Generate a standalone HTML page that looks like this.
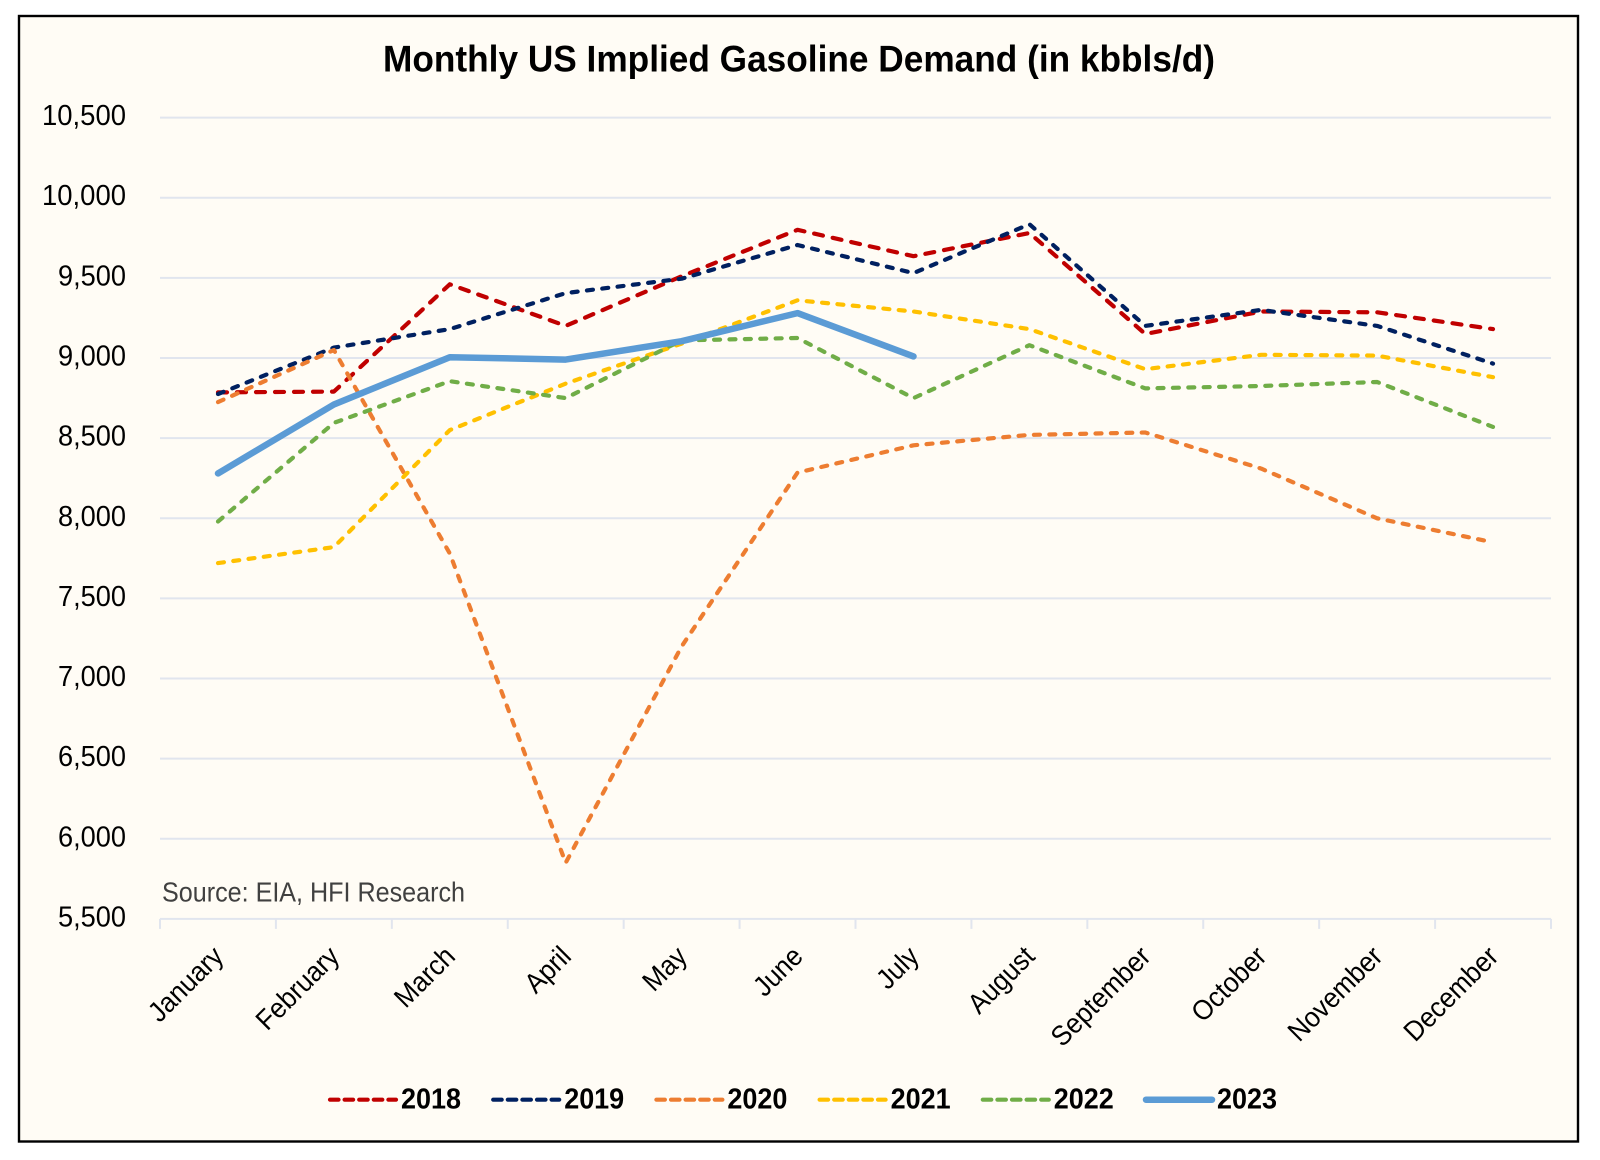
<!DOCTYPE html>
<html lang="en">
<head>
<meta charset="utf-8">
<title>Monthly US Implied Gasoline Demand</title>
<style>
html,body{margin:0;padding:0;background:#fff;width:1600px;height:1160px;overflow:hidden}
svg{display:block;font-family:"Liberation Sans",sans-serif}
</style>
</head>
<body>
<svg id="chart" xmlns="http://www.w3.org/2000/svg" width="1600" height="1160" viewBox="0 0 1600 1160">
  <rect x="19" y="16" width="1559" height="1125.5" fill="#fffcf5" stroke="#000" stroke-width="2.4"/>
  <text x="383" y="71.5" font-size="37" font-weight="700" fill="#000" textLength="832" lengthAdjust="spacingAndGlyphs">Monthly US Implied Gasoline Demand (in kbbls/d)</text>
  <g id="grid"></g>
  <g id="yaxis"></g>
  <g id="xaxis"></g>
  <g id="series"></g>
  <text x="162" y="901.7" font-size="27.5" fill="#404040" textLength="303" lengthAdjust="spacingAndGlyphs">Source: EIA, HFI Research</text>
  <g id="legend"></g>
</svg>
<script>
const months = ["January","February","March","April","May","June","July","August","September","October","November","December"];
const yTicks = [5500,6000,6500,7000,7500,8000,8500,9000,9500,10000,10500];
const values2018 = [8785,8790,9460,9200,9510,9800,9635,9780,9150,9290,9285,9180];
const values2019 = [8775,9065,9180,9405,9495,9705,9530,9835,9200,9300,9200,8965];
const values2020 = [8725,9050,7780,5850,7200,8285,8455,8520,8535,8310,8000,7850];
const values2021 = [7720,7820,8550,8840,9090,9360,9290,9180,8930,9020,9015,8880];
const values2022 = [7980,8595,8855,8750,9110,9125,8750,9080,8810,8825,8850,8570];
const values2023 = [8280,8710,9005,8990,9105,9280,9010];
const seriesNames = ["2018","2019","2020","2021","2022","2023"];
const seriesValues = [values2018,values2019,values2020,values2021,values2022,values2023];
const seriesColors = ["#c00000","#002060","#ed7d31","#ffc000","#70ad47","#5b9bd5"];

const NS = "http://www.w3.org/2000/svg";
const plotLeft = 160, plotRight = 1551, plotBottom = 918.9, plotTop = 117.6;
const yMin = yTicks[0], yMax = yTicks[yTicks.length-1];
const band = (plotRight-plotLeft)/months.length;
function xPos(i){ return plotLeft + band*(i+0.5); }
function xEdge(i){ return plotLeft + band*i; }
function yPos(v){ return plotBottom - (v-yMin)/(yMax-yMin)*(plotBottom-plotTop); }
function make(tag, parent, attrs){
  const el = document.createElementNS(NS, tag);
  for(const k in attrs){ el.setAttribute(k, attrs[k]); }
  parent.appendChild(el);
  return el;
}
const gridG = document.getElementById("grid");
const yG = document.getElementById("yaxis");
const xG = document.getElementById("xaxis");
const seriesG = document.getElementById("series");
const legendG = document.getElementById("legend");

yTicks.forEach(function(t){
  const py = yPos(t);
  const line = make("line", gridG, {x1:plotLeft,x2:plotRight,y1:py,y2:py,stroke:"#e1e5ee","stroke-width":2});
  
  
  const label = t.toLocaleString("en-US");
  const txt = make("text", yG, {x:126,y:py+7.5,"text-anchor":"end","font-size":29,fill:"#000",textLength:label.length===6?84:68,lengthAdjust:"spacingAndGlyphs"});
  txt.textContent = label;
  
  
});

for(let i=0;i<=months.length;i++){
  const tick = make("line", xG, {x1:xEdge(i),x2:xEdge(i),y1:plotBottom,y2:plotBottom+10,stroke:"#e1e5ee","stroke-width":2});
  
  
}
months.forEach(function(m,i){
  const px = xPos(i)+7, py = 958;
  const txt = make("text", xG, {x:px,y:py,"text-anchor":"end","font-size":28,fill:"#000",transform:"rotate(-45 "+px+" "+py+") translate("+px+" "+py+") scale(0.93 1) translate("+(-px)+" "+(-py)+")"});
  txt.textContent = m;
  
  
});

seriesNames.forEach(function(name,s){
  const pts = seriesValues[s].map(function(v,i){ return xPos(i).toFixed(1)+","+yPos(v).toFixed(1); }).join(" ");
  const solid = name === "2023";
  const line = make("polyline", seriesG, {points:pts,fill:"none",stroke:seriesColors[s],"stroke-width":solid?6.5:4.2,"stroke-linejoin":"round","stroke-linecap":"round"});
  if(name === "2018"){ line.setAttribute("stroke-dasharray","9 10"); }
  else if(!solid){ line.setAttribute("stroke-dasharray","6 9.4"); }
  
  
});

const legendLineStart = 330, legendStep = 163.2, legendY = 1099.7;
seriesNames.forEach(function(name,s){
  const lx = legendLineStart + legendStep*s;
  const solid = name === "2023";
  const swatch = make("line", legendG, {x1:lx,x2:lx+66,y1:legendY,y2:legendY,stroke:seriesColors[s],"stroke-width":solid?6.5:4.2,"stroke-linecap":"round"});
  if(!solid){ swatch.setAttribute("stroke-dasharray","8.5 6.1"); }
  
  
  const txt = make("text", legendG, {x:lx+71,y:legendY+9,"font-size":29,"font-weight":700,fill:"#000",textLength:60,lengthAdjust:"spacingAndGlyphs"});
  txt.textContent = name;
  
  
});
</script>
</body>
</html>
